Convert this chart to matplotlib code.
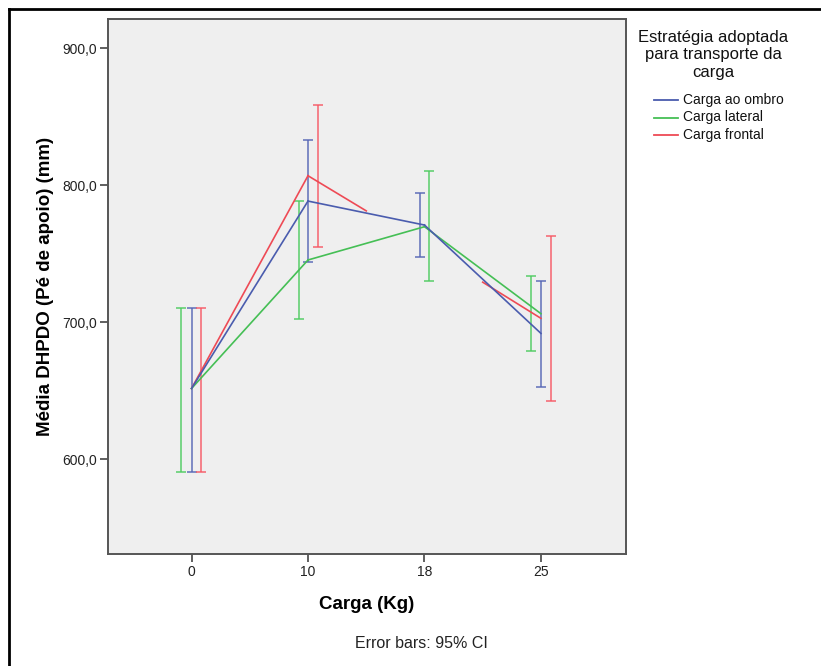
import numpy as np
import matplotlib
matplotlib.use("Agg")
import matplotlib.pyplot as plt
from matplotlib.lines import Line2D

plt.rcParams['font.family'] = ['Liberation Sans', 'DejaVu Sans']

# data
cargas = ["0", "10", "18", "25"]
series = ["Carga ao ombro", "Carga lateral", "Carga frontal"]

media_ombro = [651.5, 788.3, 770.8, 691.7]
ci_lo_ombro = [590.5, 743.8, 747.4, 652.8]
ci_hi_ombro = [710.2, 832.6, 793.9, 729.9]

media_lateral = [651.5, 745.3, 769.6, 706.1]
ci_lo_lateral = [590.5, 702.2, 729.7, 678.6]
ci_hi_lateral = [710.2, 788.3, 810.2, 733.8]

# no CI at 18 for frontal; mean there only seen through the line stubs
media_frontal = [651.5, 806.8, 755.5, 702.7]
ci_lo_frontal = [590.5, 755.0, np.nan, 642.3]
ci_hi_frontal = [710.2, 858.6, np.nan, 762.8]

colors = ["#4a5cae", "#45bf55", "#ee4a55"]
bar_colors = ["#5566b6", "#4fcb60", "#f65a66"]
# error bar dodge (category units) per category, per series
dodge = [[0.0, -0.087, 0.083],
         [0.0, -0.080, 0.082],
         [-0.037, 0.043, 0.0],
         [0.0, -0.083, 0.085]]

means = [media_ombro, media_lateral, media_frontal]
lows = [ci_lo_ombro, ci_lo_lateral, ci_lo_frontal]
highs = [ci_hi_ombro, ci_hi_lateral, ci_hi_frontal]

fig = plt.figure(figsize=(8.21, 6.66), dpi=100)
ax = fig.add_axes([108 / 821, 1 - 554 / 666, 518 / 821, 535 / 666])
ax.set_facecolor("#efefef")

x = np.arange(len(cargas))
for s in range(len(series)):
    m = np.array(means[s])
    lo = np.array(lows[s])
    hi = np.array(highs[s])
    ok = ~np.isnan(lo)
    # lines between category centres, half segments toward a point with no CI
    for i in range(len(x) - 1):
        x0, x1, y0, y1 = x[i], x[i + 1], m[i], m[i + 1]
        if ok[i] and ok[i + 1]:
            ax.plot([x0, x1], [y0, y1], color=colors[s], lw=1.2, zorder=3 - s * 0.1)
        elif ok[i]:
            ax.plot([x0, (x0 + x1) / 2], [y0, (y0 + y1) / 2], color=colors[s], lw=1.2, zorder=3 - s * 0.1)
        elif ok[i + 1]:
            ax.plot([(x0 + x1) / 2, x1], [(y0 + y1) / 2, y1], color=colors[s], lw=1.2, zorder=3 - s * 0.1)
    xe = x + np.array([d[s] for d in dodge])
    ax.errorbar(xe[ok], m[ok], yerr=[m[ok] - lo[ok], hi[ok] - m[ok]], fmt="none",
                ecolor=bar_colors[s], elinewidth=1.15, capsize=3.6, capthick=1.15,
                alpha=0.9, zorder=2)

ax.set_xlim(-0.717, 3.73)
ax.set_ylim(530.7, 921.2)
ax.set_xticks(x)
ax.set_xticklabels(cargas, fontsize=10, color="#222222")
ax.set_yticks([600, 700, 800, 900])
ax.set_yticklabels(["600,0", "700,0", "800,0", "900,0"], fontsize=10, color="#222222")
ax.tick_params(direction="out", length=6, width=1.2, color="#444444", pad=2)
for sp in ax.spines.values():
    sp.set_color("#555555")
    sp.set_linewidth(1.4)

ax.set_xlabel("Carga (Kg)", fontsize=13.5, fontweight="bold", labelpad=12)
ax.set_ylabel("Média DHPDO (Pé de apoio) (mm)", fontsize=13.5, fontweight="bold", labelpad=6)

fig.text(421 / 821, 1 - 643 / 666, "Error bars: 95% CI", ha="center", va="center",
         fontsize=11.5, color="#222222")

# legend drawn by hand
fig.text(713 / 821, 1 - 55 / 666, "Estratégia adoptada\npara transporte da\ncarga",
         ha="center", va="center", fontsize=12, linespacing=1.2, color="#111111")
for s, name in enumerate(series):
    yy = 1 - (100 + s * 17.5) / 666
    fig.add_artist(Line2D([654 / 821, 678 / 821], [yy, yy], color=colors[s], lw=1.3))
    fig.text(683 / 821, yy, name, ha="left", va="center", fontsize=10, color="#111111")

# outer frame (top and left edges visible)
fig.add_artist(Line2D([9 / 821, 1.0], [1 - 8.5 / 666, 1 - 8.5 / 666], color="black", lw=2))
fig.add_artist(Line2D([9 / 821, 9 / 821], [0.0, 1 - 8.5 / 666], color="black", lw=2))

fig.savefig("out.png", dpi=100)
